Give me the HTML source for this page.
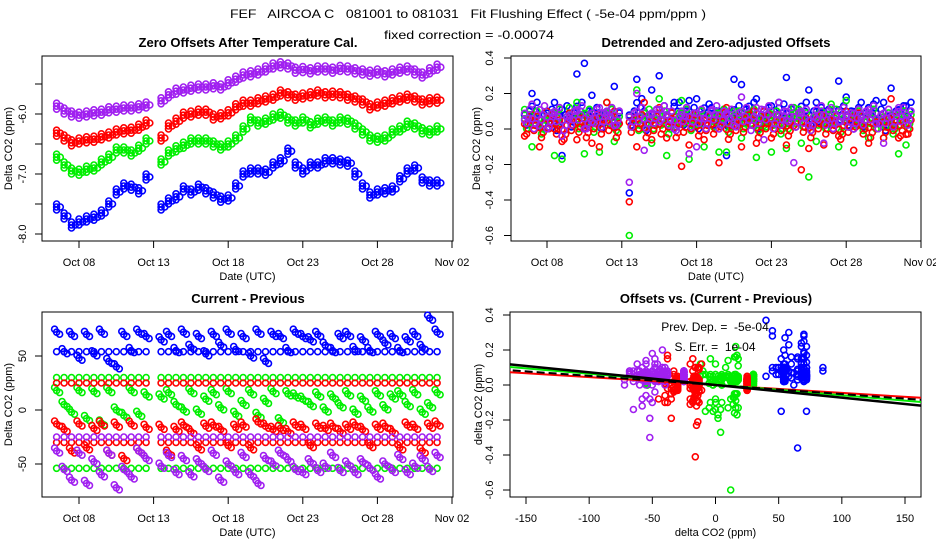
<!DOCTYPE html>
<html><head><meta charset="utf-8">
<style>
html,body{margin:0;padding:0;background:#fff;}
svg{display:block;font-family:"Liberation Sans",sans-serif;}
text{white-space:pre;}
</style></head>
<body>
<svg id="chart" width="936" height="540" viewBox="0 0 936 540" xml:space="preserve">
<rect x="0" y="0" width="936" height="540" fill="#fff"/>
<text x="468" y="18" text-anchor="middle" font-size="12" textLength="476" lengthAdjust="spacingAndGlyphs">FEF   AIRCOA C   081001 to 081031   Fit Flushing Effect ( -5e-04 ppm/ppm )</text>
<text x="469" y="39" text-anchor="middle" font-size="12" textLength="170" lengthAdjust="spacingAndGlyphs">fixed correction = -0.00074</text>
</svg>
<script>
// ---- data ----
const seriesNames = ["blue","green","red","purple"];
const seriesColors = ["#0000ff","#00ee00","#ff0000","#a020f0"];
const segStarts = [6.5, 13.5];
const segStep = 0.5;
const segALen = 13;
// Panel 1: offsets (ppm)
const offBlue = [-7.55,-7.7,-7.85,-7.8,-7.75,-7.72,-7.65,-7.5,-7.3,-7.2,-7.22,-7.28,-7.05,
 -7.55,-7.45,-7.38,-7.25,-7.3,-7.22,-7.28,-7.35,-7.42,-7.4,-7.2,-7.0,-6.95,-6.95,-6.97,-6.85,-6.78,-6.62,-6.85,-6.95,-6.85,-6.85,-6.78,-6.78,-6.8,-6.82,-7.0,-7.2,-7.35,-7.3,-7.28,-7.25,-7.08,-6.95,-6.9,-7.1,-7.15,-7.15];
const offGreen = [-6.72,-6.85,-6.95,-6.97,-6.92,-6.9,-6.8,-6.72,-6.6,-6.6,-6.65,-6.57,-6.45,
 -6.8,-6.65,-6.58,-6.52,-6.45,-6.45,-6.45,-6.5,-6.55,-6.5,-6.4,-6.25,-6.1,-6.15,-6.12,-6.05,-6.02,-6.1,-6.15,-6.1,-6.18,-6.12,-6.1,-6.15,-6.1,-6.12,-6.2,-6.3,-6.4,-6.42,-6.4,-6.3,-6.25,-6.17,-6.2,-6.28,-6.3,-6.25];
const offRed = [-6.32,-6.4,-6.48,-6.45,-6.43,-6.42,-6.38,-6.35,-6.3,-6.28,-6.27,-6.22,-6.15,
 -6.4,-6.2,-6.12,-6.02,-6.0,-5.97,-5.97,-6.05,-6.03,-5.98,-5.88,-5.82,-5.82,-5.78,-5.75,-5.72,-5.65,-5.68,-5.72,-5.7,-5.68,-5.65,-5.68,-5.67,-5.68,-5.72,-5.75,-5.8,-5.88,-5.85,-5.82,-5.78,-5.75,-5.72,-5.75,-5.8,-5.78,-5.77];
const offPurple = [-5.87,-5.95,-6.0,-6.02,-6.0,-5.98,-5.97,-5.93,-5.92,-5.9,-5.9,-5.88,-5.85,
 -5.78,-5.68,-5.62,-5.6,-5.57,-5.55,-5.55,-5.53,-5.55,-5.48,-5.42,-5.35,-5.33,-5.3,-5.25,-5.2,-5.18,-5.2,-5.27,-5.26,-5.28,-5.25,-5.25,-5.27,-5.24,-5.25,-5.28,-5.3,-5.32,-5.3,-5.33,-5.3,-5.27,-5.25,-5.3,-5.35,-5.28,-5.22];
// Panel 2: detrended offsets (two samples per step)
const detABlue = [0.08,0.2,0.05,0.1,0.15,-0.15,0.05,0.31,0.37,0.19,0.08,0.1,0.24,
 -0.36,0.28,0.1,0.22,0.3,0.08,0.15,0.1,0.16,0.17,0.08,0.12,0.1,-0.15,0.28,0.25,0.1,0.17,0.05,0.13,0.15,0.29,0.12,0.08,0.22,0.15,0.1,0.08,0.27,0.18,0.0,0.15,0.12,0.16,0.15,0.23,0.1,0.13];
const detBBlue = [0.05,0.1,0.03,0.06,0.02,0.08,0.04,0.1,0.05,0.07,0.03,0.06,0.04,
 0.05,0.12,0.02,0.06,0.08,0.04,0.1,0.05,0.07,0.03,0.09,0.05,0.06,0.04,0.08,0.06,0.1,0.03,0.07,0.05,0.09,0.06,0.04,0.1,0.05,0.07,0.06,0.03,0.08,0.05,0.07,0.04,0.09,0.06,0.02,0.05,0.08,0.1];
const detAGreen = [0.11,-0.1,0.02,0.05,-0.15,-0.17,0.12,0.15,-0.14,0.05,-0.13,0.15,-0.07,
 -0.6,0.22,0.0,-0.08,0.17,-0.15,0.05,0.16,-0.17,0.03,-0.1,0.05,-0.13,-0.13,0.1,-0.05,0.08,-0.16,0.02,-0.13,0.05,-0.11,0.12,-0.08,-0.27,-0.07,0.02,0.14,-0.1,0.16,-0.19,0.02,-0.05,0.0,-0.05,0.05,-0.14,-0.09];
const detBGreen = [0.03,0.05,0.0,0.04,0.06,0.02,0.05,0.03,0.06,0.01,0.04,0.06,0.02,
 0.04,0.02,0.06,0.03,0.05,0.0,0.04,0.06,0.02,0.05,0.03,0.04,0.06,0.01,0.05,0.03,0.06,0.02,0.04,0.05,0.0,0.03,0.06,0.04,0.02,0.05,0.03,0.06,0.01,0.04,0.05,0.02,0.06,0.03,0.04,0.0,0.05,0.03];
const detARed = [-0.04,0.08,-0.1,0.1,0.0,-0.07,0.09,-0.06,0.02,-0.08,-0.1,0.15,0.1,
 -0.41,-0.1,0.15,-0.06,0.12,-0.05,0.05,-0.21,-0.09,0.06,-0.06,0.03,-0.19,0.12,0.02,-0.1,0.05,-0.08,0.1,-0.05,0.08,-0.09,0.02,-0.23,-0.11,0.05,-0.09,0.03,-0.04,0.1,-0.12,0.02,-0.08,0.04,-0.05,0.17,-0.05,-0.03];
const detBRed = [0.0,0.02,-0.02,0.03,0.0,-0.03,0.02,0.01,-0.02,0.03,0.0,0.02,-0.02,
 0.01,0.03,-0.02,0.02,0.0,0.04,-0.02,0.01,0.03,-0.01,0.02,0.0,0.04,-0.03,0.02,0.01,0.05,-0.02,0.03,0.0,0.02,-0.01,0.04,0.01,-0.02,0.03,0.0,0.02,-0.03,0.01,0.04,0.0,-0.02,0.03,0.01,0.02,-0.01,0.0];
const detAPurple = [0.05,0.14,0.02,0.0,0.08,-0.04,0.06,0.1,0.0,0.04,0.12,0.08,0.02,
 -0.3,0.2,-0.12,0.08,0.04,0.1,0.0,0.08,-0.14,-0.1,0.06,0.1,0.0,0.08,0.02,0.18,0.05,0.12,-0.06,0.1,0.15,0.05,-0.19,0.1,0.02,0.06,-0.08,0.12,0.04,0.08,0.0,0.06,0.09,0.03,-0.08,0.07,0.12,0.05];
const detBPurple = [0.06,0.03,0.08,0.04,0.07,0.02,0.05,0.08,0.03,0.06,0.04,0.07,0.05,
 0.04,0.07,0.03,0.06,0.08,0.05,0.02,0.07,0.04,0.06,0.03,0.08,0.05,0.06,0.04,0.07,0.02,0.06,0.08,0.03,0.05,0.07,0.04,0.06,0.02,0.08,0.05,0.03,0.07,0.04,0.06,0.05,0.08,0.03,0.06,0.04,0.07,0.05];
// Panel 3: current - previous (ppm)
const cpBlue = [72,54,70,48,70,52,72,45,40,70,55,72,68,
 65,70,55,72,58,68,52,70,60,72,56,68,50,72,45,70,68,55,72,68,65,70,60,55,68,70,56,65,55,70,62,68,55,65,70,58,85,72];
const cpGreen = [18,5,-2,18,-8,17,-12,18,0,-5,18,-4,14,
 12,16,5,0,17,-2,10,16,2,17,-4,6,16,-5,8,17,-10,15,13,10,5,14,0,12,4,15,-2,10,0,15,2,12,15,5,16,-2,4,16];
const cpRed = [-13,-18,-38,-13,-35,-17,-13,-40,-14,-45,-13,-38,-16,
 -16,-40,-18,-14,-20,-35,-15,-14,-18,-33,-16,-14,-35,-11,-15,-18,-17,-20,-14,-16,-33,-15,-17,-15,-20,-16,-14,-18,-33,-16,-15,-20,-35,-14,-16,-38,-15,-13];
const cpPurple = [-38,-55,-65,-40,-68,-48,-60,-40,-72,-55,-62,-38,-45,
 -52,-42,-58,-45,-60,-48,-55,-40,-65,-50,-58,-42,-60,-68,-45,-50,-40,-46,-55,-58,-48,-56,-52,-42,-56,-50,-58,-48,-54,-62,-50,-56,-44,-58,-52,-45,-55,-42];
const levelsBlue = [54];
const levelsGreen = [30,-54];
const levelsRed = [25,-30];
const levelsPurple = [-25];
// Panel 4: fit lines (slope ppm/ppm, intercept ppm)
const fitSlopes = [-0.00045,-0.000615,-0.00052,-0.000723];
const fitIntercepts = [0.0,0.003,0.0,0.0];
const fitColors = ["#ff0000","#00ee00","#000000","#000000"];
const fitNames = ["fit-line-red","fit-line-green","fit-line-black-dashed","fit-line-black"];
// ticks
const dayTicks = [8,13,18,23,28,33];
const dayTickLabels = ["Oct 08","Oct 13","Oct 18","Oct 23","Oct 28","Nov 02"];
const p1YTicks = [-8,-7.5,-7,-6.5,-6,-5.5];
const p1YLabels = ["-8.0","","-7.0","","-6.0",""];
const p2YTicks = [-0.6,-0.4,-0.2,0,0.2,0.4];
const p2YLabels = ["-0.6","-0.4","-0.2","0.0","0.2","0.4"];
const p3YTicks = [-50,0,50];
const p3YLabels = ["-50","0","50"];
const p4XTicks = [-150,-100,-50,0,50,100,150];
const p4XLabels = ["-150","-100","-50","0","50","100","150"];

const offs = [offBlue,offGreen,offRed,offPurple];
const detA = [detABlue,detAGreen,detARed,detAPurple];
const detB = [detBBlue,detBGreen,detBRed,detBPurple];
const cps = [cpBlue,cpGreen,cpRed,cpPurple];
const levels = [levelsBlue,levelsGreen,levelsRed,levelsPurple];

const NS="http://www.w3.org/2000/svg";
const svg=document.getElementById('chart');
function mk(tag,attrs,parent){const e=document.createElementNS(NS,tag);for(const k in attrs)e.setAttribute(k,attrs[k]);(parent||svg).appendChild(e);return e;}
function dayOf(i){return i<segALen?segStarts[0]+segStep*i:segStarts[1]+segStep*(i-segALen);}

function makeLin(d0,d1,r0,r1){return v=>r0+(v-d0)*(r1-r0)/(d1-d0);}

const panels=[
 {name:"zero-offsets-panel",title:"Zero Offsets After Temperature Cal.",x0:42,x1:453,y0:56,y1:241,tx:248,ty:47,
  xs:makeLin(8,33,79,452),ys:makeLin(-7,-6,174,114),xlab:"Date (UTC)",ylab:"Delta CO2 (ppm)",ylx:12,tlx:26},
 {name:"detrended-panel",title:"Detrended and Zero-adjusted Offsets",x0:511,x1:921,y0:56,y1:241,tx:716,ty:47,
  xs:makeLin(8,33,547,921),ys:makeLin(0,0.4,129,58),xlab:"Date (UTC)",ylab:"Delta CO2 (ppm)",ylx:480,tlx:493},
 {name:"current-previous-panel",title:"Current - Previous",x0:42,x1:453,y0:312,y1:497,tx:248,ty:303,
  xs:makeLin(8,33,79,452),ys:makeLin(0,50,410,356),xlab:"Date (UTC)",ylab:"Delta CO2 (ppm)",ylx:12,tlx:26},
 {name:"offsets-vs-cp-panel",title:"Offsets vs. (Current - Previous)",x0:510,x1:921,y0:312,y1:497,tx:716,ty:303,
  xs:makeLin(-150,150,526,905),ys:makeLin(0,0.4,385,315),xlab:"delta CO2 (ppm)",ylab:"delta CO2 (ppm)",ylx:482,tlx:493}
];

function frame(p,xt,xl,yt,yl){
  const g=mk('g',{});
  
  
  const t=mk('text',{x:p.tx,y:p.ty,'text-anchor':'middle','font-size':13,'font-weight':'bold'},g);
  
  
  t.textContent=p.title;
  const b=mk('rect',{x:p.x0,y:p.y0,width:p.x1-p.x0,height:p.y1-p.y0,fill:'none',stroke:'#000','stroke-width':1},g);
  
  
  xt.forEach((v,i)=>{const x=p.xs(v);
    const tk=mk('line',{x1:x,x2:x,y1:p.y1,y2:p.y1+7,stroke:'#000'},g);
    
    
    const tl=mk('text',{x:x,y:p.y1+25,'text-anchor':'middle','font-size':11},g);
    
    
    tl.textContent=xl[i];});
  yt.forEach((v,i)=>{const y=p.ys(v);
    const tk=mk('line',{x1:p.x0-7,x2:p.x0,y1:y,y2:y,stroke:'#000'},g);
    
    
    if(yl[i]){const tl=mk('text',{x:p.tlx,y:y,'text-anchor':'middle','font-size':11,transform:`rotate(-90 ${p.tlx} ${y})`},g);
    
    
    tl.textContent=yl[i];}});
  const xlab=mk('text',{x:(p.x0+p.x1)/2,y:p.y1+39,'text-anchor':'middle','font-size':11},g);
  
  
  xlab.textContent=p.xlab;
  const ym=(p.y0+p.y1)/2;
  const ylab=mk('text',{x:p.ylx,y:ym,'text-anchor':'middle','font-size':11,transform:`rotate(-90 ${p.ylx} ${ym})`},g);
  
  
  ylab.textContent=p.ylab;
  return g;
}
function dot(parent,x,y,c,r){
  const e=mk('circle',{cx:x.toFixed(1),cy:y.toFixed(1),r:r||3,fill:'none',stroke:c,'stroke-width':1.6},parent);
  
  
}
function clipFor(p,id){const cp=mk('clipPath',{id:id});mk('rect',{x:p.x0,y:p.y0,width:p.x1-p.x0,height:p.y1-p.y0},cp);return `url(#${id})`;}

// Panel 1
(function(){const p=panels[0];const g=frame(p,dayTicks,dayTickLabels,p1YTicks,p1YLabels);
 seriesNames.forEach((n,s)=>{const sg=mk('g',{},g);
  
  
  offs[s].forEach((v,i)=>{const x=p.xs(dayOf(i)),y=p.ys(v);dot(sg,x,y,seriesColors[s]);dot(sg,x,y-3,seriesColors[s]);dot(sg,x,y+3,seriesColors[s]);dot(sg,x+3.7,y,seriesColors[s]);});});})();
// Panel 2
(function(){const p=panels[1];const g=frame(p,dayTicks,dayTickLabels,p2YTicks,p2YLabels);
 seriesNames.forEach((n,s)=>{const sg=mk('g',{},g);
  
  
  detA[s].forEach((v,i)=>dot(sg,p.xs(dayOf(i)),p.ys(v),seriesColors[s]));
  detB[s].forEach((v,i)=>{const x=p.xs(dayOf(i)),y=p.ys(v);dot(sg,x+3.7,y,seriesColors[s]);dot(sg,x,y-5,seriesColors[s]);dot(sg,x+2,y+5,seriesColors[s]);dot(sg,x+5,y-9,seriesColors[s]);});});})();
// Panel 3
(function(){const p=panels[2];const g=frame(p,dayTicks,dayTickLabels,p3YTicks,p3YLabels);
 seriesNames.forEach((n,s)=>{const sg=mk('g',{},g);
  
  
  levels[s].forEach(L=>{cps[s].forEach((v,i)=>dot(sg,p.xs(dayOf(i)),p.ys(L),seriesColors[s]));});
  cps[s].forEach((v,i)=>{const x=p.xs(dayOf(i)),y=p.ys(v);dot(sg,x,y,seriesColors[s]);dot(sg,x+3,y+2,seriesColors[s]);dot(sg,x-2,y-3,seriesColors[s]);});});})();
// Panel 4
(function(){const p=panels[3];const g=frame(p,p4XTicks,p4XLabels,p2YTicks,p2YLabels);
 const clip=clipFor(p,'clip4');
 seriesNames.forEach((n,s)=>{const sg=mk('g',{'clip-path':clip},g);
  
  
  cps[s].forEach((v,i)=>{dot(sg,p.xs(v),p.ys(detA[s][i]),seriesColors[s]);dot(sg,p.xs(v),p.ys(detB[s][i]),seriesColors[s]);});
  levels[s].forEach(L=>detB[s].forEach((v,i)=>dot(sg,p.xs(L),p.ys(v),seriesColors[s])));});
 const lg=mk('g',{'clip-path':clip},g);
 fitSlopes.forEach((m,k)=>{const xa=-170,xb=165;
  const l=mk('line',{x1:p.xs(xa),x2:p.xs(xb),y1:p.ys(fitIntercepts[k]+m*xa),y2:p.ys(fitIntercepts[k]+m*xb),stroke:fitColors[k],'stroke-width':k===3?2.5:2},lg);
  if(k===2) l.setAttribute('stroke-dasharray','8 4');
  
  });
 const t1=mk('text',{x:715,y:331,'text-anchor':'middle','font-size':12},g);
 
 
 t1.textContent='Prev. Dep. =  -5e-04';
 const t2=mk('text',{x:715,y:351,'text-anchor':'middle','font-size':12},g);
 
 
 t2.textContent='S. Err. =  1e-04';
})();
</script>
</body></html>
